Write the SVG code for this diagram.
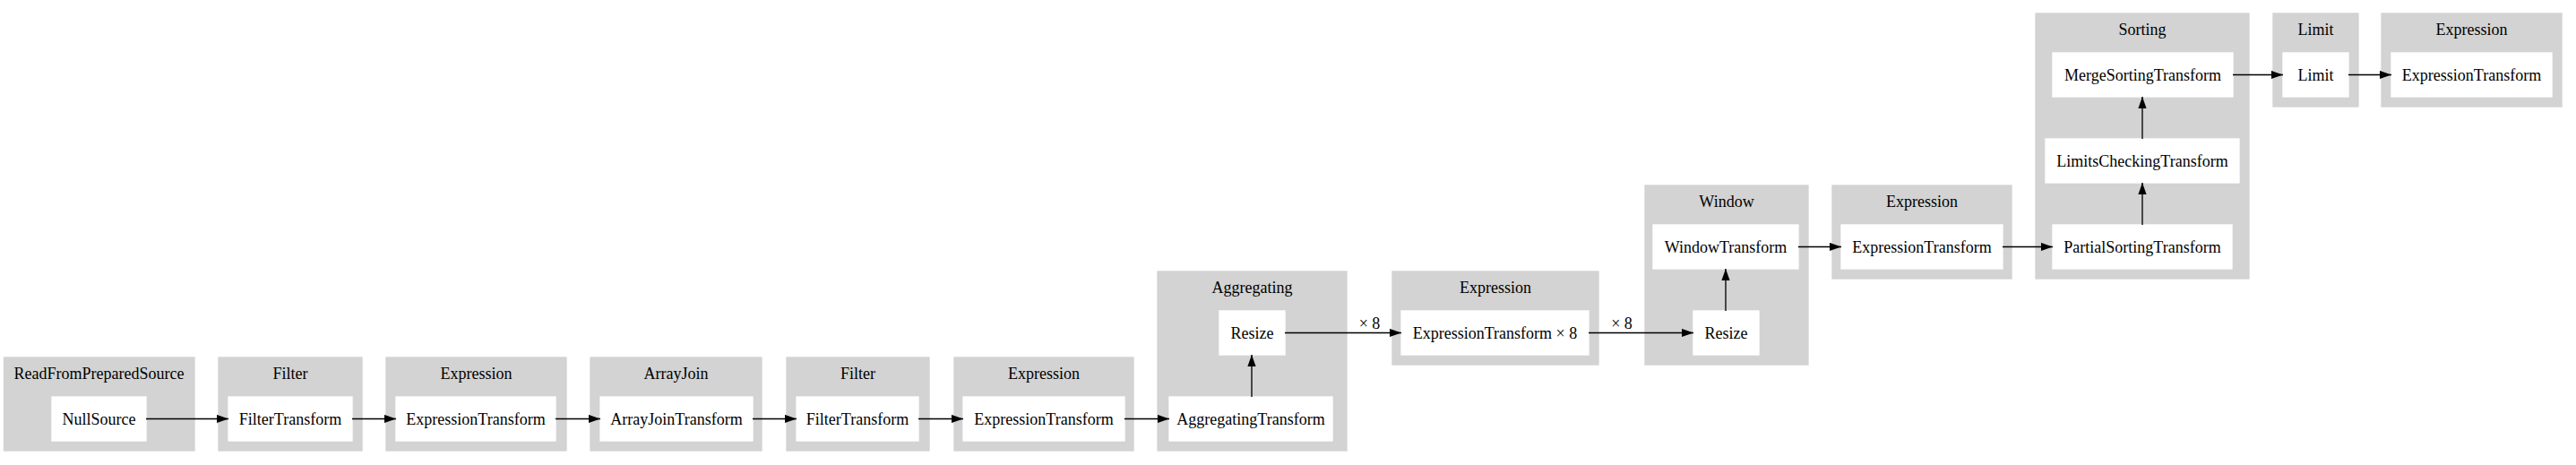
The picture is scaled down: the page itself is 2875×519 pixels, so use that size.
<svg xmlns="http://www.w3.org/2000/svg" width="2875" height="519" viewBox="0 0 2875 519">
<style>
.cl{fill:#d3d3d3;stroke:#d3d3d3;stroke-width:1.33}
.nd{fill:#ffffff;stroke:#ffffff;stroke-width:1.33}
text{font-family:"Liberation Serif","Times New Roman",serif;font-size:18px;text-anchor:middle;fill:#000}
.e{stroke:#000;stroke-width:1.33;fill:none;marker-end:url(#ah)}
</style>
<defs>
<marker id="ah" markerUnits="userSpaceOnUse" markerWidth="14" markerHeight="10" refX="13.3" refY="4.7" orient="auto">
<path d="M0,0 L13.3,4.7 L0,9.4 z" fill="#000"/>
</marker>
</defs>
<rect width="2875" height="519" fill="#fff"/>

<g id="cluster-readfrompreparedsource">
<rect class="cl" x="4.5" y="399" width="212.5" height="104"/>
<text x="110.5" y="422.5">ReadFromPreparedSource</text>
<g id="n-nullsource"><rect class="nd" x="58" y="443" width="105" height="49"/><text x="110.5" y="473.5">NullSource</text></g>
</g>

<g id="cluster-filter1">
<rect class="cl" x="244" y="399" width="160" height="104"/>
<text x="324" y="422.5">Filter</text>
<g id="n-filtertransform1"><rect class="nd" x="255" y="443" width="138" height="49"/><text x="324" y="473.5">FilterTransform</text></g>
</g>

<g id="cluster-expression1">
<rect class="cl" x="431" y="399" width="201" height="104"/>
<text x="531.5" y="422.5">Expression</text>
<g id="n-expressiontransform1"><rect class="nd" x="442" y="443" width="178" height="49"/><text x="531" y="473.5">ExpressionTransform</text></g>
</g>

<g id="cluster-arrayjoin">
<rect class="cl" x="659" y="399" width="191" height="104"/>
<text x="754.5" y="422.5">ArrayJoin</text>
<g id="n-arrayjointransform"><rect class="nd" x="670" y="443" width="170" height="49"/><text x="755" y="473.5">ArrayJoinTransform</text></g>
</g>

<g id="cluster-filter2">
<rect class="cl" x="878" y="399" width="159" height="104"/>
<text x="957.5" y="422.5">Filter</text>
<g id="n-filtertransform2"><rect class="nd" x="889" y="443" width="136" height="49"/><text x="957" y="473.5">FilterTransform</text></g>
</g>

<g id="cluster-expression2">
<rect class="cl" x="1065" y="399" width="200" height="104"/>
<text x="1165" y="422.5">Expression</text>
<g id="n-expressiontransform2"><rect class="nd" x="1075" y="443" width="180" height="49"/><text x="1165" y="473.5">ExpressionTransform</text></g>
</g>

<g id="cluster-aggregating">
<rect class="cl" x="1292" y="303" width="211" height="200"/>
<text x="1397.5" y="326.5">Aggregating</text>
<g id="n-resize1"><rect class="nd" x="1361" y="347" width="73" height="49"/><text x="1397.5" y="377.5">Resize</text></g>
<g id="n-aggregatingtransform"><rect class="nd" x="1305" y="443" width="182" height="49"/><text x="1396" y="473.5">AggregatingTransform</text></g>
</g>

<g id="cluster-expression3">
<rect class="cl" x="1554" y="303" width="230" height="104"/>
<text x="1669" y="326.5">Expression</text>
<g id="n-expressiontransform-x8"><rect class="nd" x="1564" y="347" width="209" height="49"/><text x="1668.5" y="377.5">ExpressionTransform × 8</text></g>
</g>

<g id="cluster-window">
<rect class="cl" x="1836" y="207" width="182" height="200"/>
<text x="1927" y="230.5">Window</text>
<g id="n-windowtransform"><rect class="nd" x="1845" y="251" width="162" height="49"/><text x="1926" y="281.5">WindowTransform</text></g>
<g id="n-resize2"><rect class="nd" x="1890" y="347" width="73" height="49"/><text x="1926.5" y="377.5">Resize</text></g>
</g>

<g id="cluster-expression4">
<rect class="cl" x="2045" y="207" width="200" height="104"/>
<text x="2145" y="230.5">Expression</text>
<g id="n-expressiontransform4"><rect class="nd" x="2055" y="251" width="180" height="49"/><text x="2145" y="281.5">ExpressionTransform</text></g>
</g>

<g id="cluster-sorting">
<rect class="cl" x="2272" y="15" width="238" height="296"/>
<text x="2391" y="38.5">Sorting</text>
<g id="n-mergesortingtransform"><rect class="nd" x="2291" y="59" width="201" height="49"/><text x="2391.5" y="89.5">MergeSortingTransform</text></g>
<g id="n-limitscheckingtransform"><rect class="nd" x="2283" y="155" width="216" height="49"/><text x="2391" y="185.5">LimitsCheckingTransform</text></g>
<g id="n-partialsortingtransform"><rect class="nd" x="2291" y="251" width="200" height="49"/><text x="2391" y="281.5">PartialSortingTransform</text></g>
</g>

<g id="cluster-limit">
<rect class="cl" x="2537" y="15" width="95" height="104"/>
<text x="2584.5" y="38.5">Limit</text>
<g id="n-limit"><rect class="nd" x="2548" y="59" width="73" height="49"/><text x="2584.5" y="89.5">Limit</text></g>
</g>

<g id="cluster-expression5">
<rect class="cl" x="2658" y="15" width="201" height="104"/>
<text x="2758.5" y="38.5">Expression</text>
<g id="n-expressiontransform5"><rect class="nd" x="2669" y="59" width="179" height="49"/><text x="2758.5" y="89.5">ExpressionTransform</text></g>
</g>

<g id="connectors">
<line class="e" x1="163" y1="467.5" x2="255" y2="467.5"/>
<line class="e" x1="393" y1="467.5" x2="442" y2="467.5"/>
<line class="e" x1="620" y1="467.5" x2="670" y2="467.5"/>
<line class="e" x1="840" y1="467.5" x2="889" y2="467.5"/>
<line class="e" x1="1025" y1="467.5" x2="1075" y2="467.5"/>
<line class="e" x1="1255" y1="467.5" x2="1305" y2="467.5"/>
<line class="e" x1="1397" y1="443" x2="1397" y2="396"/>
<line class="e" x1="1434" y1="371.5" x2="1564" y2="371.5"/>
<text x="1528.5" y="367">× 8</text>
<line class="e" x1="1773" y1="371.5" x2="1890" y2="371.5"/>
<text x="1810" y="367">× 8</text>
<line class="e" x1="1926" y1="347" x2="1926" y2="300"/>
<line class="e" x1="2007" y1="275.5" x2="2055" y2="275.5"/>
<line class="e" x1="2235" y1="275.5" x2="2291" y2="275.5"/>
<line class="e" x1="2391" y1="251" x2="2391" y2="204"/>
<line class="e" x1="2391" y1="155" x2="2391" y2="108"/>
<line class="e" x1="2492" y1="83.5" x2="2548" y2="83.5"/>
<line class="e" x1="2621" y1="83.5" x2="2669" y2="83.5"/>
</g>
</svg>
